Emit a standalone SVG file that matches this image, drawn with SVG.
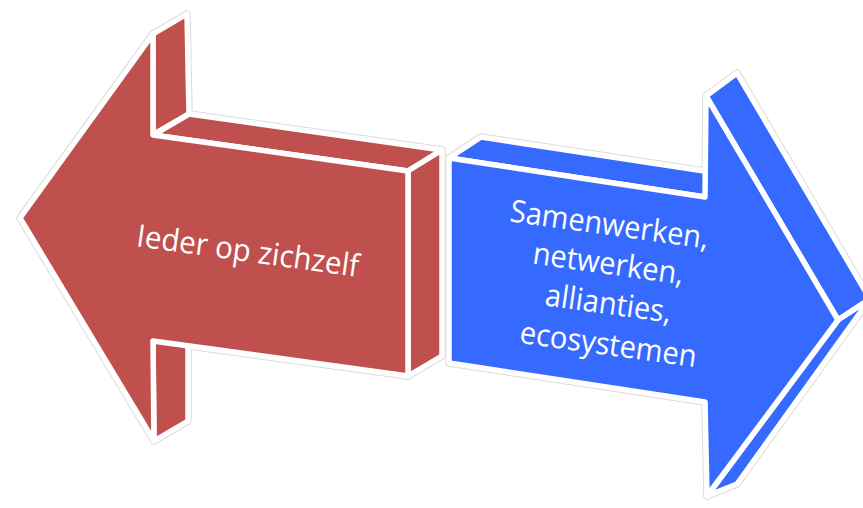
<svg xmlns="http://www.w3.org/2000/svg" width="863" height="508" viewBox="0 0 863 508">
  <style>
    .halo { fill: #dcdcdc; stroke: #dcdcdc; stroke-width: 7.5; stroke-linejoin: round; }
    .red { fill: #C0504D; stroke: #ffffff; stroke-width: 5.5; stroke-linejoin: round; }
    .blue { fill: #366AFF; stroke: #ffffff; stroke-width: 5.5; stroke-linejoin: round; }
    .lbl { font-family: "Open Sans", "Liberation Sans", sans-serif; font-size: 31px; fill: #ffffff; text-anchor: middle; }
  </style>
  <rect width="863" height="508" fill="#ffffff"/>
  <g id="node-left">
    <g class="halo">
      <polygon points="153,34 187,14 189,114 153,135"/>
      <polygon points="153,135 189,114 442,150 408,171"/>
      <polygon points="408,171 442,150 442,356 408,376"/>
      <polygon points="153,341 188,320 188,421 154,441"/>
      <polygon points="20,218 153,34 153,135 408,171 408,376 153,341 154,441"/>
    </g>
    <polygon class="red" points="153,34 187,14 189,114 153,135"/>
    <polygon class="red" points="153,135 189,114 442,150 408,171"/>
    <polygon class="red" points="408,171 442,150 442,356 408,376"/>
    <polygon class="red" points="153,341 188,320 188,421 154,441"/>
    <polygon class="red" points="20,218 153,34 153,135 408,171 408,376 153,341 154,441"/>
    <text class="lbl" x="246.5" y="261.5" textLength="224" lengthAdjust="spacingAndGlyphs" transform="rotate(7.9 246.5 261.5)">Ieder op zichzelf</text>
  </g>
  <g id="node-right">
    <g class="halo">
      <polygon points="449,158 481,137 737,176 705,197"/>
      <polygon points="706,96 737,73 870,299 838,320"/>
      <polygon points="838,320 870,299 737,484 707,496"/>
      <polygon points="449,158 705,197 706,96 838,320 707,496 705,402 449,363"/>
    </g>
    <polygon class="blue" points="449,158 481,137 737,176 705,197"/>
    <polygon class="blue" points="706,96 737,73 870,299 838,320"/>
    <polygon class="blue" points="838,320 870,299 737,484 707,496"/>
    <polygon class="blue" points="449,158 705,197 706,96 838,320 707,496 705,402 449,363"/>
    <text class="lbl" x="608" y="235" textLength="200" lengthAdjust="spacingAndGlyphs" transform="rotate(7.9 608 235)">Samenwerken,</text>
    <text class="lbl" x="607" y="274" textLength="152" lengthAdjust="spacingAndGlyphs" transform="rotate(7.9 607 274)">netwerken,</text>
    <text class="lbl" x="607" y="314" textLength="127" lengthAdjust="spacingAndGlyphs" transform="rotate(7.9 607 314)">allianties,</text>
    <text class="lbl" x="607" y="355" textLength="178" lengthAdjust="spacingAndGlyphs" transform="rotate(7.9 607 355)">ecosystemen</text>
  </g>
</svg>
